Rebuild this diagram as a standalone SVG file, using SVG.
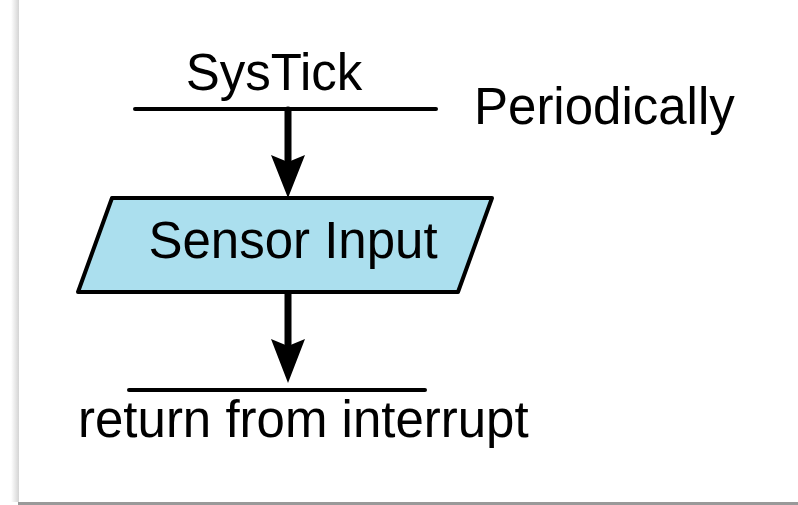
<svg xmlns="http://www.w3.org/2000/svg" width="798" height="505" viewBox="0 0 798 505">
  <defs>
    <linearGradient id="lshadow" x1="0" y1="0" x2="1" y2="0">
      <stop offset="0" stop-color="#ffffff"/>
      <stop offset="1" stop-color="#d4d4d4"/>
    </linearGradient>
    <style>
      .lbl { font-family: "Liberation Sans", Arial, sans-serif; font-size: 51px; fill: #000; }
      .bar { stroke: #000; stroke-width: 4; stroke-linecap: round; fill: none; }
      .shaft { stroke: #000; stroke-width: 7; stroke-linecap: round; fill: none; }
      .head { fill: #000; stroke: none; }
      .io { fill: #ABDFEE; stroke: #000; stroke-width: 4; stroke-linejoin: round; }
    </style>
  </defs>
  <rect x="0" y="0" width="798" height="505" fill="#ffffff"/>
  <rect x="11" y="0" width="8" height="502" fill="url(#lshadow)"/>
  <rect x="18" y="502" width="780" height="3" fill="#999999"/>

  <g id="connectors">
    <line class="shaft" x1="288" y1="110" x2="288" y2="160"/>
    <path class="head" d="M271,155 L288,162 L305,155 L288,198 Z"/>
    <line class="shaft" x1="288" y1="293" x2="288" y2="344"/>
    <path class="head" d="M271,339 L288,346 L305,339 L288,383 Z"/>
  </g>

  <g id="start">
    <line class="bar" x1="135" y1="109" x2="436" y2="109"/>
    <text class="lbl" x="274" y="90" text-anchor="middle">SysTick</text>
  </g>

  <g id="periodically">
    <text class="lbl" x="474" y="124">Periodically</text>
  </g>

  <g id="sensor-input">
    <polygon class="io" points="112,198 492,198 458,292 78,292"/>
    <text class="lbl" x="293" y="258" text-anchor="middle">Sensor Input</text>
  </g>

  <g id="end">
    <line class="bar" x1="129" y1="390" x2="425" y2="390"/>
    <text class="lbl" x="78" y="437">return from interrupt</text>
  </g>
</svg>
